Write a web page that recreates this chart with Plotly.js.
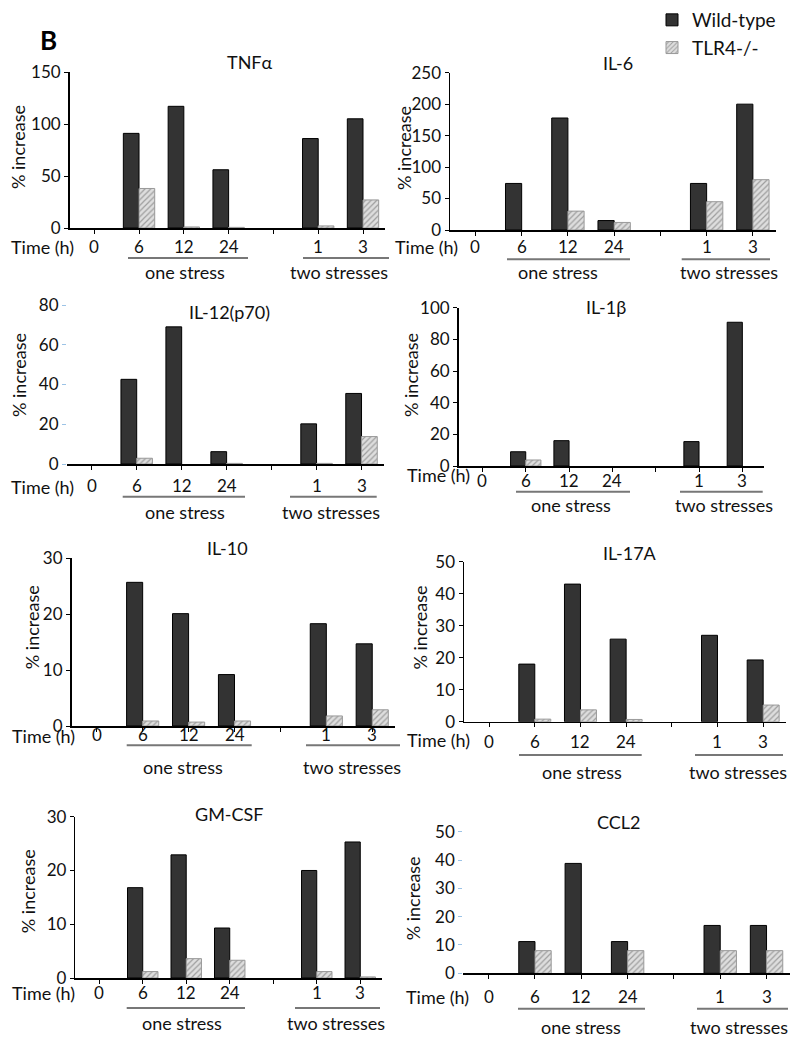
<!DOCTYPE html>
<html>
<head>
<meta charset="utf-8">
<script src="https://cdn.plot.ly/plotly-3.0.1.min.js"></script>
<style>
  html, body { margin: 0; padding: 0; background: #fff; }
  #chart { width: 800px; height: 1042px; }
</style>
</head>
<body>
<div id="chart"></div>
<script>
// Time points, "gap" is the empty slot between the two stress groups
const timeCats = ["0", "6", "12", "24", "gap", "1", "3"];
const timeLabels = ["0", "6", "12", "24", "", "1", "3"];

// % increase (Wild-type / TLR4-/-); null = no bar drawn
const tnfWT = [null, 91, 117, 56, null, 86, 105];
const tnfKO = [null, 38, 1, 0.6, null, 2, 27];
const il6WT = [null, 74, 178, 15, null, 74, 200];
const il6KO = [null, null, 30, 12, null, 45, 80];
const il12WT = [null, 42.6, 69, 6.2, null, 20.2, 35.5];
const il12KO = [null, 2.9, null, 0.3, null, 0.3, 13.8];
const il1bWT = [null, 9, 16, null, null, 15.4, 90.8];
const il1bKO = [null, 3.8, null, null, null, null, null];
const il10WT = [null, 25.7, 20.1, 9.2, null, 18.3, 14.7];
const il10KO = [null, 0.9, 0.7, 0.9, null, 1.8, 2.9];
const il17WT = [null, 18, 43, 25.8, null, 27, 19.3];
const il17KO = [null, 0.8, 3.7, 0.7, null, null, 5.2];
const gmWT = [null, 16.8, 22.9, 9.3, null, 20, 25.3];
const gmKO = [null, 1.2, 3.6, 3.3, null, 1.2, 0.2];
const ccl2WT = [null, 11.2, 38.8, 11.2, null, 16.9, 16.9];
const ccl2KO = [null, 8, null, 8, null, 8, 8];

const W = 800, H = 1042;
const FONT = "Lato, 'Open Sans', sans-serif";
const px = (p) => p / W;
const py = (p) => 1 - p / H;

// Panel placement in pixels (plot box, label rows, group underlines)
const panels = [
    { title: "TNFα", wt: tnfWT, ko: tnfKO, ymax: 150, dtick: 50,
      L: 69.6, R: 385.4, T: 72, B: 228, labY: 246, titlePos: [250, 62], ylab: [18, 147],
      time: [42, 246.7], textY: 272, one: 185, two: 339,
      lineY: 258, oneLine: [128, 248], twoLine: [303, 389], hideLine: false },
    { title: "IL-6", wt: il6WT, ko: il6KO, ymax: 250, dtick: 50,
      L: 450, R: 776, T: 72.7, B: 230, labY: 246, titlePos: [618, 63], ylab: [404, 148],
      time: [426, 246.7], textY: 272, one: 558, two: 729,
      lineY: 259.3, oneLine: [507, 630], twoLine: [681.7, 770], hideLine: false },
    { title: "IL-12(p70)", wt: il12WT, ko: il12KO, ymax: 80, dtick: 20,
      L: 67, R: 384, T: 305, B: 464, labY: 485.5, titlePos: [230, 312], ylab: [19, 375],
      time: [42, 486.7], textY: 511.7, one: 185, two: 331,
      lineY: 496.7, oneLine: [122.7, 245], twoLine: [290, 376.7], hideLine: true },
    { title: "IL-1β", wt: il1bWT, ko: il1bKO, ymax: 100, dtick: 20,
      L: 458.6, R: 764, T: 307.7, B: 466, labY: 480, titlePos: [606, 307], ylab: [411, 375],
      time: [438.5, 475], textY: 505, one: 570.5, two: 723.8,
      lineY: 491.7, oneLine: [516, 630], twoLine: [680, 762.7], hideLine: false },
    { title: "IL-10", wt: il10WT, ko: il10KO, ymax: 30, dtick: 10,
      L: 71.5, R: 395.2, T: 558.3, B: 726, labY: 734, titlePos: [228, 548], ylab: [31.7, 627.5],
      time: [43.7, 736], textY: 766.7, one: 183.3, two: 352,
      lineY: 745.3, oneLine: [126.7, 251.7], twoLine: [306, 400], hideLine: false },
    { title: "IL-17A", wt: il17WT, ko: il17KO, ymax: 50, dtick: 10,
      L: 464, R: 786, T: 561.7, B: 721.7, labY: 741, titlePos: [630, 553], ylab: [419, 627.5],
      time: [438, 740], textY: 771.7, one: 581.7, two: 738.3,
      lineY: 755, oneLine: [519, 641.7], twoLine: [695, 783], hideLine: false },
    { title: "GM-CSF", wt: gmWT, ko: gmKO, ymax: 30, dtick: 10,
      L: 75.3, R: 382, T: 816.7, B: 978, labY: 992.7, titlePos: [230, 814], ylab: [27.5, 891.7],
      time: [43, 993], textY: 1022.7, one: 181.7, two: 335.8,
      lineY: 1008, oneLine: [126.7, 245], twoLine: [295, 380], hideLine: false },
    { title: "CCL2", wt: ccl2WT, ko: ccl2KO, ymax: 50, dtick: 10,
      L: 463.2, R: 789.7, T: 831.7, B: 973.3, labY: 996.7, titlePos: [618, 821.7], ylab: [413, 898.3],
      time: [437, 996.7], textY: 1026.7, one: 581, two: 738.8,
      lineY: 1008.7, oneLine: [518, 645], twoLine: [697, 788], hideLine: true },
];

const traces = [];
const layout = {
    width: W,
    height: H,
    margin: { l: 0, r: 0, t: 0, b: 0 },
    paper_bgcolor: "#fff",
    plot_bgcolor: "rgba(0,0,0,0)",
    font: { family: FONT, color: "#111", size: 17 },
    barmode: "group",
    bargap: 0.3,
    bargroupgap: 0,
    showlegend: true,
    legend: {
        x: px(652), y: py(1), xanchor: "left", yanchor: "top",
        font: { family: FONT, size: 19, color: "#111" },
        bgcolor: "rgba(0,0,0,0)",
        tracegroupgap: 2,
    },
    annotations: [],
    shapes: [],
};

panels.forEach((p, i) => {
    const n = i === 0 ? "" : String(i + 1);
    const xa = "x" + n, ya = "y" + n;

    traces.push({
        type: "bar", x: timeCats, y: p.wt, name: "Wild-type",
        xaxis: xa, yaxis: ya, showlegend: i === 0,
        marker: { color: "#333333", line: { color: "#000", width: 1 } },
        hoverinfo: "skip",
    });
    traces.push({
        type: "bar", x: timeCats, y: p.ko, name: "TLR4-/-",
        xaxis: xa, yaxis: ya, showlegend: i === 0,
        marker: {
            color: "#dadada",
            line: { color: "#999", width: 1 },
            pattern: { shape: "/", bgcolor: "#dedede", fgcolor: "#9e9e9e", size: 4, solidity: 0.3 },
        },
        hoverinfo: "skip",
    });

    layout["xaxis" + n] = {
        domain: [px(p.L), px(p.R)],
        anchor: ya,
        type: "category",
        categoryorder: "array",
        categoryarray: timeCats,
        tickvals: timeCats,
        range: [-0.55, 6.5],
        showline: true, linecolor: "#000", linewidth: 1.5,
        ticks: "outside", ticklen: 4, tickcolor: "#000", tickwidth: 1,
        showticklabels: false,
        showgrid: false, zeroline: false,
        fixedrange: true,
    };
    layout["yaxis" + n] = {
        domain: [py(p.B), py(p.T)],
        anchor: xa,
        range: [0, p.ymax],
        dtick: p.dtick,
        showline: !p.hideLine, linecolor: "#000", linewidth: 1.5,
        ticks: "outside", ticklen: 4, tickwidth: 1,
        tickcolor: p.hideLine ? "#9cc3e6" : "#000",
        showgrid: false, zeroline: false,
        tickfont: { family: FONT, size: 17, color: "#111" },
        fixedrange: true,
    };

    const ann = (text, x, y, size, extra) => layout.annotations.push(Object.assign({
        text, x: px(x), y: py(y), xref: "paper", yref: "paper",
        showarrow: false, xanchor: "center", yanchor: "middle",
        font: { family: FONT, size, color: "#111" },
    }, extra || {}));

    // time labels placed on the category axis (by category index)
    timeLabels.forEach((lab, k) => {
        if (!lab) return;
        layout.annotations.push({
            text: lab, x: k, xref: xa, y: py(p.labY), yref: "paper",
            showarrow: false, xanchor: "center", yanchor: "middle",
            font: { family: FONT, size: 17, color: "#111" },
        });
    });

    ann(p.title, p.titlePos[0], p.titlePos[1], 18);
    ann("% increase", p.ylab[0], p.ylab[1], 18, { textangle: -90 });
    ann("Time (h)", p.time[0], p.time[1], 18);
    ann("one stress", p.one, p.textY, 18);
    ann("two stresses", p.two, p.textY, 18);

    [p.oneLine, p.twoLine].forEach((seg) => {
        layout.shapes.push({
            type: "line", xref: "paper", yref: "paper",
            x0: px(seg[0]), x1: px(seg[1]), y0: py(p.lineY), y1: py(p.lineY),
            line: { color: "#777", width: 2 },
        });
    });
});

// panel letter
layout.annotations.push({
    text: "<b>B</b>", x: px(48.5), y: py(40), xref: "paper", yref: "paper",
    showarrow: false, xanchor: "center", yanchor: "middle",
    font: { family: FONT, size: 26, color: "#000" },
});

Plotly.newPlot("chart", traces, layout, { displayModeBar: false, staticPlot: true });
</script>
</body>
</html>
